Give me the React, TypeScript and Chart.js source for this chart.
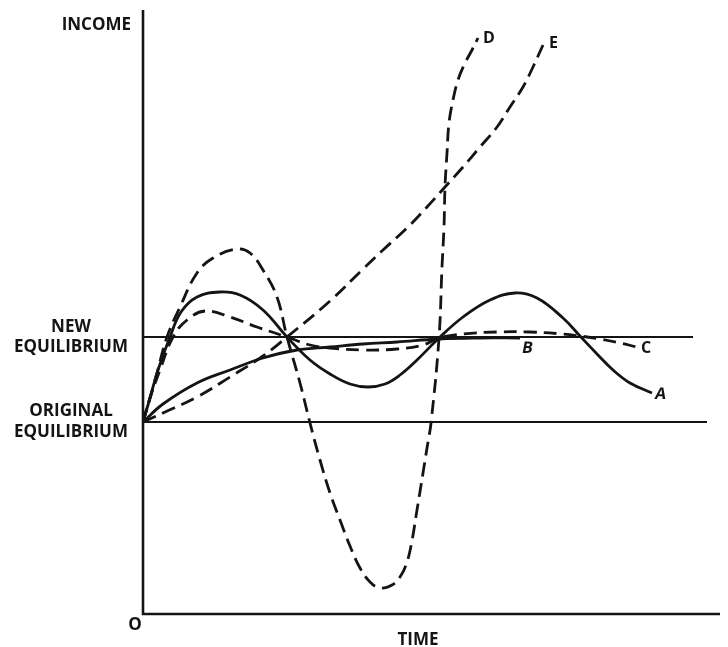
import React, { useEffect, useRef } from "react";
import { Chart, registerables } from "chart.js";

Chart.register(...registerables);

// Time and income in arbitrary units (origin at the axes' corner)
const ORIGINAL_EQ = 192;
const NEW_EQ = 277;

const timeA = [0, 7, 15, 27, 38, 54, 77, 97, 120, 144, 167, 187, 207, 225, 242, 257, 274, 296, 320, 347, 372, 394, 420, 437, 454, 470, 487, 509];
const incomeA = [192, 216, 244, 277, 302, 317, 322, 319, 304, 277, 254, 240, 230, 227, 230, 239, 254, 276, 297, 314, 321, 316, 296, 278, 260, 244, 231, 221];

const timeB = [0, 20, 54, 87, 120, 154, 187, 220, 254, 296, 337, 377];
const incomeB = [192, 210, 231, 244, 256, 264, 267, 270, 272, 275, 276, 276];

const timeC = [0, 7, 17, 30, 44, 62, 87, 114, 144, 167, 187, 220, 254, 280, 296, 320, 354, 387, 420, 437, 457, 477, 494];
const incomeC = [192, 216, 244, 277, 294, 303, 297, 287, 277, 269, 266, 264, 265, 269, 276, 280, 282, 282, 280, 278, 275, 271, 267];

const timeD = [0, 7, 14, 24, 37, 54, 70, 94, 107, 120, 134, 144, 157, 167, 177, 187, 197, 207, 217, 227, 237, 249, 257, 263, 268, 274, 280, 284, 288, 296, 299, 301, 302, 304, 306, 310, 315, 322, 329, 335];
const incomeD = [192, 216, 241, 277, 307, 341, 356, 365, 361, 344, 317, 277, 231, 191, 154, 121, 94, 68, 46, 32, 26, 29, 37, 49, 68, 104, 141, 166, 191, 276, 347, 387, 427, 461, 491, 514, 534, 551, 564, 576];

const timeE = [0, 20, 54, 87, 120, 144, 187, 220, 240, 264, 284, 302, 320, 337, 354, 367, 380, 390, 400];
const incomeE = [192, 201, 217, 237, 258, 277, 313, 345, 364, 386, 407, 427, 447, 467, 487, 507, 527, 547, 569];

const NEW_EQ_END = 550;
const ORIG_EQ_END = 564;
const TIME_MAX = 577;
const INCOME_MAX = 604;

const curveNames = ["A", "B", "C", "D", "E"];

const pts = (xs: number[], ys: number[]) => xs.map((x, i) => ({ x, y: ys[i] }));

const INK = "#141414";
const FONT = "'Open Sans', 'DejaVu Sans', sans-serif";

export default function App() {
  const ref = useRef<HTMLCanvasElement | null>(null);

  useEffect(() => {
    if (!ref.current) return;

    const labelPlugin = {
      id: "figureText",
      afterDatasetsDraw(chart: any) {
        const { ctx, chartArea } = chart;
        const xs = chart.scales.x;
        const ys = chart.scales.y;
        ctx.save();
        // axes
        ctx.strokeStyle = INK;
        ctx.lineWidth = 2.6;
        ctx.setLineDash([]);
        ctx.beginPath();
        ctx.moveTo(chartArea.left, chartArea.top);
        ctx.lineTo(chartArea.left, chartArea.bottom);
        ctx.lineTo(chartArea.right, chartArea.bottom);
        ctx.stroke();

        ctx.fillStyle = INK;
        ctx.font = `bold 17px ${FONT}`;
        ctx.textBaseline = "middle";
        ctx.textAlign = "right";
        ctx.fillText("INCOME", chartArea.left - 12, chartArea.top + 15);

        ctx.textAlign = "center";
        const cx = chartArea.left - 72;
        const yNew = ys.getPixelForValue(NEW_EQ);
        const yOrig = ys.getPixelForValue(ORIGINAL_EQ);
        ctx.fillText("NEW", cx, yNew - 10);
        ctx.fillText("EQUILIBRIUM", cx, yNew + 10);
        ctx.fillText("ORIGINAL", cx, yOrig - 11);
        ctx.fillText("EQUILIBRIUM", cx, yOrig + 10);

        ctx.fillText("O", chartArea.left - 8, chartArea.bottom + 11);
        ctx.fillText("TIME", xs.getPixelForValue(275), chartArea.bottom + 26);

        // curve labels next to the end of each curve
        ctx.font = `bold 16px ${FONT}`;
        ctx.textAlign = "left";
        const offsets: Record<string, [number, number]> = {
          A: [3, 1],
          B: [2, 10],
          C: [4, 1],
          D: [5, 0],
          E: [6, -2],
        };
        chart.data.datasets.forEach((ds: any) => {
          const name = ds.label;
          if (!offsets[name]) return;
          const last = ds.data[ds.data.length - 1];
          const px = xs.getPixelForValue(last.x);
          const py = ys.getPixelForValue(last.y);
          ctx.save();
          if (name === "A" || name === "B") {
            ctx.translate(px + offsets[name][0], py + offsets[name][1]);
            ctx.transform(1, 0, -0.18, 1, 0, 0);
            ctx.fillText(name, 0, 0);
          } else {
            ctx.fillText(name, px + offsets[name][0], py + offsets[name][1]);
          }
          ctx.restore();
        });
        ctx.restore();
      },
    };

    const curve = (name: string, xs: number[], ys: number[], dash: number[]) => ({
      label: name,
      data: pts(xs, ys),
      borderColor: INK,
      borderWidth: 2.8,
      borderDash: dash,
      borderCapStyle: "butt" as const,
      pointRadius: 0,
      fill: false,
      tension: 0.4,
    });

    const chart = new Chart(ref.current, {
      type: "line",
      data: {
        datasets: [
          {
            label: "new",
            data: [
              { x: 0, y: NEW_EQ },
              { x: NEW_EQ_END, y: NEW_EQ },
            ],
            borderColor: INK,
            borderWidth: 2,
            pointRadius: 0,
          },
          {
            label: "orig",
            data: [
              { x: 0, y: ORIGINAL_EQ },
              { x: ORIG_EQ_END, y: ORIGINAL_EQ },
            ],
            borderColor: INK,
            borderWidth: 2,
            pointRadius: 0,
          },
          curve(curveNames[0], timeA, incomeA, []),
          curve(curveNames[1], timeB, incomeB, []),
          curve(curveNames[2], timeC, incomeC, [13, 7]),
          curve(curveNames[3], timeD, incomeD, [14, 7]),
          curve(curveNames[4], timeE, incomeE, [14, 7]),
        ],
      },
      options: {
        animation: false,
        responsive: false,
        devicePixelRatio: 1,
        layout: { padding: { left: 143, right: 8, top: 10, bottom: 33 } },
        plugins: { legend: { display: false }, tooltip: { enabled: false } },
        scales: {
          x: { type: "linear", min: 0, max: TIME_MAX, display: false },
          y: { type: "linear", min: 0, max: INCOME_MAX, display: false },
        },
      },
      plugins: [labelPlugin],
    });

    return () => chart.destroy();
  }, []);

  return (
    <div style={{ position: "absolute", left: 0, top: 0, width: 728, height: 647, background: "#fff" }}>
      <canvas ref={ref} width={728} height={647} />
    </div>
  );
}
